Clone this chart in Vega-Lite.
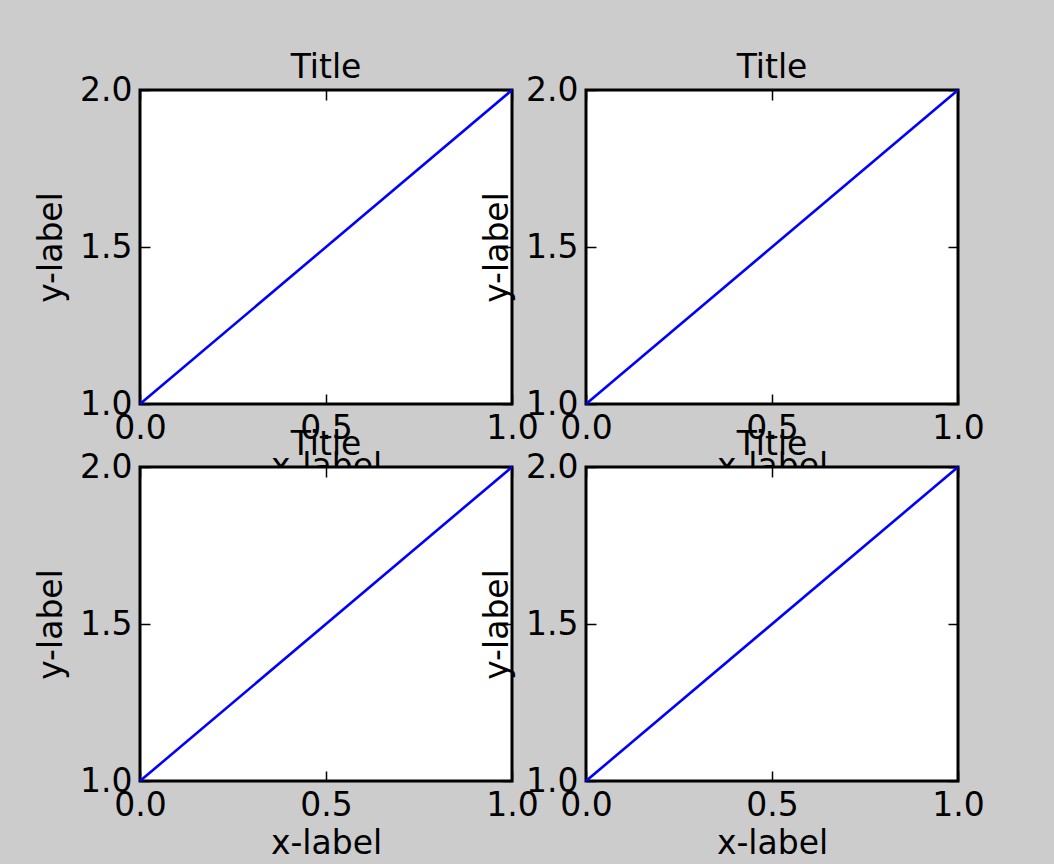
{
  "$schema": "https://vega.github.io/schema/vega-lite/v6.json",
  "background": "#cccccc",
  "padding": {"left": 34, "top": 50, "right": 80, "bottom": 40},
  "datasets": {
    "line": [{"x": 0, "y": 1}, {"x": 1, "y": 2}]
  },
  "config": {
    "font": "DejaVu Sans",
    "view": {"stroke": "#000000", "strokeWidth": 3, "fill": "#ffffff"},
    "axis": {
      "domain": false,
      "grid": false,
      "labelFont": "DejaVu Sans",
      "labelFontSize": 33,
      "labelColor": "#000000",
      "labelFlush": false,
      "labelOverlap": false,
      "titleFont": "DejaVu Sans",
      "titleFontSize": 33,
      "titleFontWeight": "normal",
      "titleColor": "#000000",
      "tickColor": "#000000",
      "tickWidth": 1.5
    },
    "title": {"font": "DejaVu Sans", "fontSize": 33, "fontWeight": "normal", "color": "#000000", "frame": "group", "baseline": "alphabetic", "offset": -11}
  },
  "columns": 2,
  "bounds": "flush",
  "spacing": {"row": 63, "column": 74},
  "concat": [
    {
      "width": 372, "height": 314,
      "title": "Title",
      "data": {"name": "line"},
      "layer": [
        {"mark": {"type": "line", "color": "#0000ff", "strokeWidth": 2.6},
         "encoding": {
           "x": {"field": "x", "type": "quantitative", "scale": {"domain": [0, 1], "nice": false, "zero": false},
                 "axis": {"orient": "bottom", "values": [0, 0.5, 1], "format": ".1f", "title": "x-label", "tickSize": -10, "labelPadding": 18, "titleBaseline": "alphabetic", "titlePadding": 31}},
           "y": {"field": "y", "type": "quantitative", "scale": {"domain": [1, 2], "nice": false, "zero": false},
                 "axis": {"orient": "left", "values": [1, 1.5, 2], "format": ".1f", "title": "y-label", "tickSize": -10, "labelPadding": 18, "titleBaseline": "alphabetic", "titlePadding": 18}}
         }},
        {"mark": {"type": "line", "strokeOpacity": 0},
         "encoding": {
           "x": {"field": "x", "type": "quantitative", "axis": {"orient": "top", "labels": false, "title": null, "values": [0, 0.5, 1], "tickSize": -10}},
           "y": {"field": "y", "type": "quantitative", "axis": {"orient": "right", "labels": false, "title": null, "values": [1, 1.5, 2], "tickSize": -10}}
         }}
      ],
      "resolve": {"axis": {"x": "independent", "y": "independent"}}
    },
    {
      "width": 372, "height": 314,
      "title": "Title",
      "data": {"name": "line"},
      "layer": [
        {"mark": {"type": "line", "color": "#0000ff", "strokeWidth": 2.6},
         "encoding": {
           "x": {"field": "x", "type": "quantitative", "scale": {"domain": [0, 1], "nice": false, "zero": false},
                 "axis": {"orient": "bottom", "values": [0, 0.5, 1], "format": ".1f", "title": "x-label", "tickSize": -10, "labelPadding": 18, "titleBaseline": "alphabetic", "titlePadding": 31}},
           "y": {"field": "y", "type": "quantitative", "scale": {"domain": [1, 2], "nice": false, "zero": false},
                 "axis": {"orient": "left", "values": [1, 1.5, 2], "format": ".1f", "title": "y-label", "tickSize": -10, "labelPadding": 18, "titleBaseline": "alphabetic", "titlePadding": 18}}
         }},
        {"mark": {"type": "line", "strokeOpacity": 0},
         "encoding": {
           "x": {"field": "x", "type": "quantitative", "axis": {"orient": "top", "labels": false, "title": null, "values": [0, 0.5, 1], "tickSize": -10}},
           "y": {"field": "y", "type": "quantitative", "axis": {"orient": "right", "labels": false, "title": null, "values": [1, 1.5, 2], "tickSize": -10}}
         }}
      ],
      "resolve": {"axis": {"x": "independent", "y": "independent"}}
    },
    {
      "width": 372, "height": 314,
      "title": "Title",
      "data": {"name": "line"},
      "layer": [
        {"mark": {"type": "line", "color": "#0000ff", "strokeWidth": 2.6},
         "encoding": {
           "x": {"field": "x", "type": "quantitative", "scale": {"domain": [0, 1], "nice": false, "zero": false},
                 "axis": {"orient": "bottom", "values": [0, 0.5, 1], "format": ".1f", "title": "x-label", "tickSize": -10, "labelPadding": 18, "titleBaseline": "alphabetic", "titlePadding": 31}},
           "y": {"field": "y", "type": "quantitative", "scale": {"domain": [1, 2], "nice": false, "zero": false},
                 "axis": {"orient": "left", "values": [1, 1.5, 2], "format": ".1f", "title": "y-label", "tickSize": -10, "labelPadding": 18, "titleBaseline": "alphabetic", "titlePadding": 18}}
         }},
        {"mark": {"type": "line", "strokeOpacity": 0},
         "encoding": {
           "x": {"field": "x", "type": "quantitative", "axis": {"orient": "top", "labels": false, "title": null, "values": [0, 0.5, 1], "tickSize": -10}},
           "y": {"field": "y", "type": "quantitative", "axis": {"orient": "right", "labels": false, "title": null, "values": [1, 1.5, 2], "tickSize": -10}}
         }}
      ],
      "resolve": {"axis": {"x": "independent", "y": "independent"}}
    },
    {
      "width": 372, "height": 314,
      "title": "Title",
      "data": {"name": "line"},
      "layer": [
        {"mark": {"type": "line", "color": "#0000ff", "strokeWidth": 2.6},
         "encoding": {
           "x": {"field": "x", "type": "quantitative", "scale": {"domain": [0, 1], "nice": false, "zero": false},
                 "axis": {"orient": "bottom", "values": [0, 0.5, 1], "format": ".1f", "title": "x-label", "tickSize": -10, "labelPadding": 18, "titleBaseline": "alphabetic", "titlePadding": 31}},
           "y": {"field": "y", "type": "quantitative", "scale": {"domain": [1, 2], "nice": false, "zero": false},
                 "axis": {"orient": "left", "values": [1, 1.5, 2], "format": ".1f", "title": "y-label", "tickSize": -10, "labelPadding": 18, "titleBaseline": "alphabetic", "titlePadding": 18}}
         }},
        {"mark": {"type": "line", "strokeOpacity": 0},
         "encoding": {
           "x": {"field": "x", "type": "quantitative", "axis": {"orient": "top", "labels": false, "title": null, "values": [0, 0.5, 1], "tickSize": -10}},
           "y": {"field": "y", "type": "quantitative", "axis": {"orient": "right", "labels": false, "title": null, "values": [1, 1.5, 2], "tickSize": -10}}
         }}
      ],
      "resolve": {"axis": {"x": "independent", "y": "independent"}}
    }
  ]
}
